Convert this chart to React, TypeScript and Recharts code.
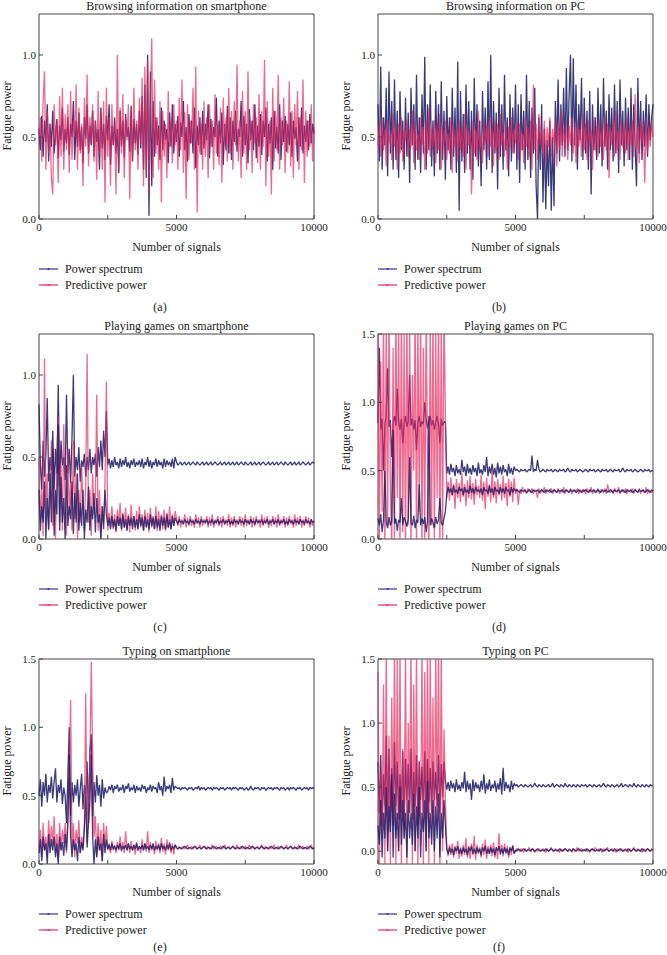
import React from "react";
import { LineChart, Line, XAxis, YAxis, ReferenceArea } from "recharts";

// one stored reading every 50 signals (0 ... 10000)
const SAMPLE_STEP = 50;

const BLUE = "#1f1f68";
const RED = "#e8285e";
const FONT = "'Liberation Serif', 'Times New Roman', serif";

// (a) Browsing information on smartphone
const browsePhoneSpectrum = [
  0.55, 0.42, 0.63, 0.38, 0.6, 0.47, 0.7, 0.35, 0.58, 0.44, 0.66, 0.4, 0.52, 0.61, 0.37, 0.57, 0.48, 0.68, 0.41, 0.55,
  0.46, 0.62, 0.39, 0.58, 0.5, 0.72, 0.36, 0.6, 0.44, 0.65, 0.42, 0.56, 0.34, 0.62, 0.49, 0.7, 0.4, 0.57, 0.45, 0.66,
  0.38, 0.6, 0.47, 0.55, 0.3, 0.68, 0.43, 0.58, 0.36, 0.63, 0.48, 0.7, 0.33, 0.57, 0.45, 0.62, 0.4, 0.55, 0.28, 0.66,
  0.44, 0.6, 0.37, 0.64, 0.5, 0.56, 0.41, 0.69, 0.35, 0.61, 0.46, 0.58, 0.39, 0.66, 0.43, 0.75, 0.3, 0.82, 0.25, 1.0,
  0.02, 0.9, 0.2, 0.72, 0.38, 0.62, 0.45, 0.57, 0.36, 0.68, 0.42, 0.6, 0.48, 0.55, 0.34, 0.65, 0.44, 0.7, 0.4, 0.58,
  0.47, 0.63, 0.38, 0.59, 0.5, 0.72, 0.42, 0.56, 0.35, 0.64, 0.46, 0.6, 0.4, 0.68, 0.31, 0.57, 0.45, 0.62, 0.39, 0.66,
  0.43, 0.58, 0.48, 0.7, 0.37, 0.61, 0.44, 0.56, 0.5, 0.74, 0.38, 0.6, 0.46, 0.65, 0.33, 0.58, 0.42, 0.69, 0.4, 0.62,
  0.36, 0.6, 0.47, 0.66, 0.41, 0.55, 0.5, 0.72, 0.38, 0.63, 0.45, 0.58, 0.34, 0.67, 0.48, 0.6, 0.42, 0.7, 0.37, 0.57,
  0.44, 0.64, 0.39, 0.6, 0.5, 0.68, 0.35, 0.58, 0.46, 0.62, 0.3, 0.66, 0.43, 0.56, 0.4, 0.7, 0.36, 0.6, 0.47, 0.63,
  0.41, 0.58, 0.45, 0.65, 0.38, 0.6, 0.49, 0.56, 0.35, 0.62, 0.44, 0.68, 0.4, 0.57, 0.47, 0.6, 0.42, 0.64, 0.46, 0.58,
  0.52,
];
const browsePhonePredicted = [
  0.48, 0.62, 0.35, 0.72, 0.9, 0.3, 0.66, 0.4, 0.58, 0.25, 0.15, 0.7, 0.45, 0.6, 0.22, 0.75, 0.38, 0.8, 0.3, 0.64,
  0.42, 0.7, 0.28, 0.78, 0.36, 0.6, 0.5, 0.82, 0.3, 0.68, 0.4, 0.58, 0.2, 0.74, 0.44, 0.88, 0.32, 0.62, 0.46, 0.7,
  0.35, 0.6, 0.24, 0.78, 0.4, 0.66, 0.3, 0.72, 0.1, 0.8, 0.38, 0.62, 0.2, 0.7, 0.45, 0.58, 0.15, 1.0, 0.3, 0.68,
  0.4, 0.76, 0.25, 0.62, 0.48, 0.7, 0.12, 0.66, 0.35, 0.8, 0.42, 0.6, 0.3, 0.74, 0.46, 0.86, 0.2, 0.93, 0.3, 0.96,
  0.15, 0.7, 1.1, 0.25, 0.85, 0.4, 0.62, 0.3, 0.72, 0.1, 0.66, 0.38, 0.58, 0.25, 0.78, 0.44, 0.6, 0.34, 0.7, 0.45,
  0.6, 0.3, 0.74, 0.42, 0.85, 0.28, 0.65, 0.12, 0.7, 0.36, 0.6, 0.46, 0.8, 0.3, 0.93, 0.04, 0.66, 0.4, 0.58, 0.3,
  0.72, 0.38, 0.62, 0.25, 0.7, 0.44, 0.6, 0.3, 0.76, 0.4, 0.58, 0.33, 0.68, 0.22, 0.74, 0.45, 0.62, 0.35, 0.8, 0.4,
  0.66, 0.3, 0.72, 0.45, 0.94, 0.35, 0.6, 0.25, 0.78, 0.4, 0.66, 0.3, 0.9, 0.42, 0.6, 0.28, 0.7, 0.46, 0.62, 0.34,
  0.76, 0.3, 0.66, 0.44, 0.97, 0.2, 0.72, 0.38, 0.6, 0.15, 0.8, 0.35, 0.66, 0.42, 0.88, 0.3, 0.62, 0.45, 0.74, 0.28,
  0.6, 0.4, 0.84, 0.32, 0.66, 0.25, 0.7, 0.45, 0.78, 0.3, 0.62, 0.42, 0.85, 0.22, 0.66, 0.38, 0.6, 0.44, 0.7, 0.35,
  0.55,
];

// (b) Browsing information on PC
const browsePcSpectrum = [
  0.7, 0.35, 0.93, 0.3, 0.62, 0.45, 0.8, 0.26, 0.9, 0.4, 0.72, 0.3, 0.85, 0.36, 0.66, 0.25, 0.78, 0.42, 0.6, 0.3,
  0.74, 0.38, 0.65, 0.22, 0.8, 0.45, 0.7, 0.3, 0.88, 0.36, 0.62, 0.28, 0.76, 0.4, 0.99, 0.3, 0.7, 0.42, 0.82, 0.32,
  0.6, 0.26, 0.78, 0.4, 0.7, 0.3, 0.84, 0.36, 0.66, 0.24, 0.75, 0.42, 0.62, 0.3, 0.8, 0.38, 0.68, 0.28, 0.96, 0.05,
  0.78, 0.35, 0.64, 0.28, 0.82, 0.4, 0.72, 0.3, 0.66, 0.24, 0.86, 0.38, 0.7, 0.32, 0.6, 0.2, 0.78, 0.42, 0.68, 0.3,
  0.84, 0.36, 1.0, 0.28, 0.72, 0.4, 0.65, 0.18, 0.8, 0.38, 0.7, 0.3, 0.88, 0.42, 0.62, 0.26, 0.76, 0.35, 0.68, 0.4,
  0.82, 0.3, 0.7, 0.22, 0.76, 0.42, 0.66, 0.3, 0.88, 0.36, 0.72, 0.25, 0.68, 0.4, 0.8, 0.2, 0.0, 0.62, 0.3, 0.7,
  0.1, 0.55, 0.06, 0.48, 0.2, 0.6, 0.05, 0.5, 0.08, 0.72, 0.4, 0.85, 0.35, 0.7, 0.45, 0.8, 0.38, 0.92, 0.42, 0.76,
  1.0, 0.35, 0.98, 0.45, 0.82, 0.3, 0.7, 0.48, 0.86, 0.36, 0.74, 0.4, 0.66, 0.3, 0.78, 0.15, 0.7, 0.42, 0.62, 0.36,
  0.8, 0.4, 0.7, 0.32, 0.86, 0.44, 0.66, 0.3, 0.76, 0.42, 0.68, 0.35, 0.82, 0.4, 0.72, 0.28, 0.85, 0.45, 0.66, 0.32,
  0.74, 0.42, 0.68, 0.36, 0.8, 0.3, 0.7, 0.45, 0.2, 0.86, 0.4, 0.72, 0.36, 0.66, 0.44, 0.76, 0.38, 0.7, 0.48, 0.62,
  0.7,
];
const browsePcPredicted = [
  0.45, 0.58, 0.38, 0.62, 0.42, 0.55, 0.32, 0.6, 0.46, 0.52, 0.36, 0.64, 0.44, 0.56, 0.3, 0.58, 0.4, 0.62, 0.35, 0.54,
  0.48, 0.6, 0.38, 0.55, 0.44, 0.66, 0.34, 0.58, 0.42, 0.52, 0.36, 0.62, 0.45, 0.56, 0.3, 0.6, 0.4, 0.68, 0.38, 0.55,
  0.44, 0.6, 0.34, 0.57, 0.42, 0.64, 0.3, 0.55, 0.46, 0.6, 0.36, 0.52, 0.4, 0.62, 0.28, 0.58, 0.44, 0.55, 0.35, 0.6,
  0.42, 0.56, 0.38, 0.64, 0.3, 0.58, 0.45, 0.54, 0.15, 0.6, 0.4, 0.55, 0.36, 0.66, 0.42, 0.52, 0.34, 0.6, 0.46, 0.57,
  0.38, 0.62, 0.44, 0.55, 0.32, 0.6, 0.42, 0.58, 0.36, 0.64, 0.45, 0.53, 0.38, 0.6, 0.3, 0.56, 0.44, 0.62, 0.4, 0.55,
  0.46, 0.6, 0.36, 0.58, 0.42, 0.52, 0.34, 0.62, 0.44, 0.56, 0.38, 0.6, 0.3, 0.82, 0.42, 0.58, 0.36, 0.64, 0.45, 0.55,
  0.4, 0.6, 0.34, 0.56, 0.44, 0.62, 0.38, 0.55, 0.46, 0.6, 0.32, 0.58, 0.42, 0.66, 0.38, 0.55, 0.44, 0.6, 0.36, 0.57,
  0.45, 0.62, 0.4, 0.56, 0.34, 0.6, 0.44, 0.55, 0.38, 0.64, 0.42, 0.58, 0.36, 0.6, 0.46, 0.54, 0.3, 0.62, 0.42, 0.56,
  0.38, 0.6, 0.44, 0.55, 0.36, 0.63, 0.42, 0.58, 0.25, 0.56, 0.45, 0.6, 0.38, 0.66, 0.42, 0.54, 0.36, 0.6, 0.44, 0.57,
  0.4, 0.62, 0.36, 0.55, 0.45, 0.6, 0.38, 0.76, 0.42, 0.56, 0.34, 0.6, 0.46, 0.58, 0.22, 0.62, 0.4, 0.56, 0.44, 0.6,
  0.5,
];

// (c) Playing games on smartphone
const gamePhoneSpectrum = [
  0.82, 0.45, 0.3, 0.6, 0.38, 0.52, 0.86, 0.35, 0.5, 0.42, 0.66, 0.3, 0.55, 0.4, 0.94, 0.32, 0.6, 0.45, 0.5, 0.36,
  0.88, 0.4, 0.55, 0.34, 0.62, 1.0, 0.38, 0.5, 0.42, 0.56, 0.35, 0.48, 0.44, 0.52, 0.38, 0.5, 0.42, 0.55, 0.4, 0.5,
  0.45, 0.52, 0.38, 0.56, 0.44, 0.6, 0.42, 0.66, 0.5, 0.78, 0.45, 0.49, 0.43, 0.48, 0.44, 0.5, 0.45, 0.47, 0.43, 0.49,
  0.44, 0.48, 0.45, 0.5, 0.44, 0.47, 0.43, 0.48, 0.45, 0.49, 0.44, 0.47, 0.45, 0.48, 0.44, 0.49, 0.43, 0.47, 0.45, 0.5,
  0.44, 0.48, 0.43, 0.47, 0.45, 0.49, 0.44, 0.48, 0.45, 0.47, 0.43, 0.49, 0.44, 0.48, 0.45, 0.47, 0.44, 0.49, 0.43, 0.5,
  0.47, 0.45, 0.46, 0.47, 0.45, 0.46, 0.47, 0.45, 0.46, 0.47, 0.45, 0.46, 0.47, 0.46, 0.45, 0.47, 0.46, 0.45, 0.46, 0.47,
  0.45, 0.46, 0.47, 0.45, 0.46, 0.47, 0.45, 0.46, 0.47, 0.46, 0.45, 0.46, 0.47, 0.45, 0.46, 0.47, 0.45, 0.46, 0.47, 0.45,
  0.46, 0.47, 0.45, 0.46, 0.47, 0.45, 0.46, 0.47, 0.46, 0.45, 0.47, 0.46, 0.45, 0.46, 0.47, 0.45, 0.46, 0.47, 0.45, 0.46,
  0.47, 0.45, 0.46, 0.47, 0.46, 0.45, 0.46, 0.47, 0.45, 0.46, 0.47, 0.45, 0.46, 0.47, 0.45, 0.46, 0.47, 0.46, 0.45, 0.47,
  0.46, 0.45, 0.46, 0.47, 0.45, 0.46, 0.47, 0.45, 0.46, 0.47, 0.45, 0.46, 0.47, 0.46, 0.45, 0.46, 0.47, 0.45, 0.46, 0.47,
  0.46,
];
const gamePhonePredicted = [
  0.5, 0.1, 0.3, 0.02, 1.1, 0.15, 0.4, 0.05, 0.25, 0.6, 0.08, 0.3, 0.0, 0.5, 0.75, 0.1, 0.45, 0.05, 0.7, 0.2,
  0.02, 0.55, 0.15, 0.35, 0.05, 0.6, 0.12, 0.4, 0.0, 0.3, 0.1, 0.45, 0.2, 0.05, 0.35, 1.13, 0.1, 0.3, 0.02, 0.4,
  0.15, 0.25, 0.88, 0.05, 0.3, 0.0, 0.2, 0.1, 0.35, 0.96, 0.05, 0.16, 0.07, 0.2, 0.06, 0.15, 0.04, 0.18, 0.08, 0.22,
  0.05, 0.16, 0.07, 0.19, 0.06, 0.15, 0.04, 0.21, 0.08, 0.14, 0.05, 0.17, 0.06, 0.2, 0.07, 0.15, 0.05, 0.18, 0.08, 0.16,
  0.04, 0.19, 0.07, 0.14, 0.06, 0.2, 0.05, 0.17, 0.08, 0.15, 0.06, 0.18, 0.05, 0.16, 0.07, 0.2, 0.06, 0.15, 0.08, 0.17,
  0.13, 0.08, 0.14, 0.07, 0.12, 0.09, 0.15, 0.07, 0.13, 0.08, 0.14, 0.08, 0.12, 0.07, 0.15, 0.09, 0.13, 0.07, 0.14, 0.08,
  0.12, 0.09, 0.14, 0.07, 0.13, 0.08, 0.15, 0.07, 0.12, 0.09, 0.14, 0.08, 0.13, 0.07, 0.14, 0.09, 0.12, 0.08, 0.15, 0.07,
  0.13, 0.08, 0.14, 0.07, 0.12, 0.09, 0.14, 0.08, 0.13, 0.07, 0.15, 0.08, 0.12, 0.09, 0.14, 0.07, 0.13, 0.08, 0.14, 0.09,
  0.12, 0.07, 0.15, 0.08, 0.13, 0.09, 0.14, 0.07, 0.12, 0.08, 0.14, 0.09, 0.13, 0.07, 0.15, 0.08, 0.12, 0.09, 0.14, 0.07,
  0.13, 0.08, 0.14, 0.09, 0.12, 0.07, 0.15, 0.08, 0.13, 0.09, 0.14, 0.07, 0.12, 0.08, 0.14, 0.09, 0.13, 0.07, 0.12, 0.08,
  0.11,
];
const gamePhoneSpectrumLow = [
  0.3, 0.05, 0.2, 0.1, 0.35, 0.0, 0.25, 0.06, 0.4, 0.1, 0.55, 0.02, 0.3, 0.15, 0.7, 0.05, 0.38, 0.1, 0.25, 0.0,
  0.45, 0.08, 0.2, 0.12, 0.35, 0.03, 0.28, 0.1, 0.4, 0.05, 0.22, 0.08, 0.3, 0.0, 0.18, 0.1, 0.32, 0.05, 0.2, 0.12,
  0.28, 0.04, 0.25, 0.1, 0.15, 0.0, 0.2, 0.06, 0.3, 0.15, 0.08, 0.13, 0.06, 0.14, 0.07, 0.12, 0.05, 0.14, 0.08, 0.13,
  0.06, 0.15, 0.07, 0.12, 0.05, 0.14, 0.08, 0.13, 0.06, 0.14, 0.07, 0.12, 0.06, 0.15, 0.08, 0.13, 0.05, 0.14, 0.07, 0.12,
  0.06, 0.15, 0.08, 0.13, 0.06, 0.14, 0.07, 0.12, 0.05, 0.14, 0.08, 0.13, 0.06, 0.15, 0.07, 0.12, 0.06, 0.14, 0.08, 0.13,
  0.11, 0.09, 0.12, 0.1, 0.11, 0.09, 0.12, 0.1, 0.11, 0.09, 0.12, 0.1, 0.11, 0.09, 0.12, 0.1, 0.11, 0.09, 0.12, 0.1,
  0.11, 0.1, 0.12, 0.09, 0.11, 0.1, 0.12, 0.09, 0.11, 0.1, 0.12, 0.09, 0.11, 0.1, 0.12, 0.09, 0.11, 0.1, 0.12, 0.09,
  0.11, 0.09, 0.12, 0.1, 0.11, 0.09, 0.12, 0.1, 0.11, 0.09, 0.12, 0.1, 0.11, 0.09, 0.12, 0.1, 0.11, 0.09, 0.12, 0.1,
  0.11, 0.1, 0.12, 0.09, 0.11, 0.1, 0.12, 0.09, 0.11, 0.1, 0.12, 0.09, 0.11, 0.1, 0.12, 0.09, 0.11, 0.1, 0.12, 0.09,
  0.11, 0.09, 0.12, 0.1, 0.11, 0.09, 0.12, 0.1, 0.11, 0.09, 0.12, 0.1, 0.11, 0.09, 0.12, 0.1, 0.11, 0.09, 0.12, 0.1,
  0.11,
];

// (d) Playing games on PC
const gamePcSpectrum = [
  0.85, 1.4, 0.8, 0.88, 0.5, 0.84, 0.9, 1.25, 0.82, 0.87, 0.6, 0.85, 0.9, 0.83, 1.1, 0.86, 0.8, 0.88, 0.7, 0.84,
  0.9, 0.82, 0.86, 1.2, 0.83, 0.88, 0.8, 0.87, 0.65, 0.85, 0.9, 0.82, 0.86, 0.84, 1.0, 0.88, 0.81, 0.86, 0.9, 0.83,
  0.87, 0.8, 0.86, 0.9, 0.84, 0.7, 0.88, 0.83, 0.86, 0.85, 0.48, 0.53, 0.47, 0.55, 0.49, 0.52, 0.46, 0.54, 0.48, 0.51,
  0.47, 0.58, 0.49, 0.53, 0.46, 0.55, 0.48, 0.52, 0.47, 0.54, 0.49, 0.52, 0.46, 0.56, 0.48, 0.51, 0.47, 0.54, 0.49, 0.6,
  0.46, 0.53, 0.48, 0.55, 0.47, 0.52, 0.45, 0.56, 0.48, 0.53, 0.47, 0.54, 0.49, 0.51, 0.46, 0.55, 0.48, 0.52, 0.47, 0.53,
  0.5, 0.51, 0.5, 0.49, 0.51, 0.5, 0.5, 0.51, 0.49, 0.5, 0.51, 0.5, 0.61, 0.49, 0.51, 0.5, 0.58, 0.51, 0.49, 0.5,
  0.51, 0.5, 0.49, 0.51, 0.5, 0.5, 0.51, 0.49, 0.5, 0.51, 0.5, 0.49, 0.51, 0.5, 0.5, 0.51, 0.49, 0.5, 0.52, 0.5,
  0.49, 0.51, 0.5, 0.5, 0.51, 0.49, 0.5, 0.51, 0.5, 0.49, 0.5, 0.51, 0.5, 0.49, 0.51, 0.5, 0.5, 0.51, 0.49, 0.5,
  0.51, 0.5, 0.49, 0.51, 0.5, 0.5, 0.51, 0.49, 0.5, 0.51, 0.5, 0.49, 0.51, 0.5, 0.5, 0.51, 0.49, 0.5, 0.52, 0.5,
  0.49, 0.51, 0.5, 0.5, 0.51, 0.49, 0.5, 0.51, 0.5, 0.49, 0.5, 0.51, 0.5, 0.49, 0.51, 0.5, 0.5, 0.51, 0.49, 0.5,
  0.5,
];
const gamePcPredicted = [
  1.7, -0.1, 1.3, 0.2, 1.7, -0.1, 1.6, 0.1, 1.7, 0.4, -0.1, 1.4, 0.0, 1.7, 0.3, 1.6, -0.1, 1.7, 0.05, 1.5,
  -0.1, 1.7, 0.1, 1.6, -0.1, 1.2, 0.5, 1.7, -0.1, 1.6, 0.2, 1.7, -0.1, 1.4, 0.0, 1.7, 0.6, -0.1, 1.6, 0.1,
  1.7, -0.1, 1.5, 0.3, 1.7, -0.1, 1.6, 0.0, 1.7, 0.9, 0.3, 0.42, 0.28, 0.45, 0.32, 0.4, 0.22, 0.44, 0.3, 0.41,
  0.27, 0.48, 0.31, 0.4, 0.24, 0.43, 0.3, 0.46, 0.29, 0.41, 0.25, 0.44, 0.32, 0.39, 0.3, 0.47, 0.28, 0.42, 0.22, 0.45,
  0.31, 0.4, 0.27, 0.5, 0.3, 0.42, 0.26, 0.44, 0.32, 0.4, 0.28, 0.46, 0.3, 0.41, 0.24, 0.44, 0.31, 0.42, 0.27, 0.45,
  0.33, 0.37, 0.25, 0.36, 0.33, 0.38, 0.34, 0.36, 0.33, 0.37, 0.35, 0.34, 0.37, 0.33, 0.36, 0.35, 0.3, 0.37, 0.33, 0.36,
  0.34, 0.38, 0.33, 0.36, 0.35, 0.34, 0.37, 0.33, 0.36, 0.35, 0.34, 0.37, 0.33, 0.36, 0.34, 0.38, 0.33, 0.36, 0.35, 0.34,
  0.37, 0.33, 0.36, 0.35, 0.34, 0.37, 0.33, 0.36, 0.35, 0.34, 0.36, 0.33, 0.37, 0.35, 0.34, 0.38, 0.33, 0.36, 0.35, 0.34,
  0.37, 0.33, 0.36, 0.35, 0.34, 0.37, 0.33, 0.4, 0.35, 0.34, 0.36, 0.33, 0.37, 0.35, 0.34, 0.38, 0.33, 0.36, 0.35, 0.34,
  0.37, 0.33, 0.36, 0.35, 0.34, 0.37, 0.33, 0.36, 0.35, 0.34, 0.37, 0.33, 0.36, 0.35, 0.34, 0.38, 0.33, 0.36, 0.35, 0.34,
  0.36,
];
const gamePcSpectrumLow = [
  0.15, 0.1, 0.18, 0.05, 0.14, 0.5, 0.12, 0.08, 0.16, 0.1, 0.13, 0.8, 0.11, 0.15, 0.06, 0.14, 0.12, 0.3, 0.1, 0.16,
  0.13, 0.09, 0.15, 0.6, 0.12, 0.1, 0.17, 0.08, 0.14, 0.12, 0.4, 0.1, 0.15, 0.11, 0.16, 0.05, 0.13, 0.9, 0.1, 0.15,
  0.12, 0.08, 0.16, 0.11, 0.14, 0.3, 0.12, 0.1, 0.15, 0.2, 0.33, 0.38, 0.34, 0.37, 0.32, 0.39, 0.34, 0.36, 0.33, 0.38,
  0.35, 0.37, 0.32, 0.38, 0.34, 0.36, 0.33, 0.39, 0.34, 0.37, 0.33, 0.38, 0.35, 0.36, 0.34, 0.37, 0.32, 0.38, 0.35, 0.36,
  0.33, 0.39, 0.34, 0.37, 0.32, 0.38, 0.35, 0.36, 0.33, 0.38, 0.34, 0.37, 0.33, 0.38, 0.35, 0.36, 0.32, 0.38, 0.34, 0.37,
  0.35, 0.36, 0.35, 0.34, 0.36, 0.35, 0.35, 0.36, 0.34, 0.35, 0.36, 0.35, 0.34, 0.36, 0.35, 0.35, 0.36, 0.34, 0.35, 0.36,
  0.35, 0.34, 0.36, 0.35, 0.35, 0.36, 0.34, 0.35, 0.36, 0.35, 0.34, 0.36, 0.35, 0.35, 0.36, 0.34, 0.35, 0.36, 0.35, 0.34,
  0.36, 0.35, 0.35, 0.36, 0.34, 0.35, 0.36, 0.35, 0.34, 0.36, 0.35, 0.36, 0.35, 0.34, 0.36, 0.35, 0.35, 0.36, 0.34, 0.35,
  0.36, 0.35, 0.34, 0.36, 0.35, 0.35, 0.36, 0.34, 0.35, 0.36, 0.35, 0.34, 0.36, 0.35, 0.35, 0.36, 0.34, 0.35, 0.36, 0.35,
  0.34, 0.36, 0.35, 0.35, 0.36, 0.34, 0.35, 0.36, 0.35, 0.34, 0.36, 0.35, 0.35, 0.36, 0.34, 0.35, 0.36, 0.35, 0.34, 0.36,
  0.35,
];

// (e) Typing on smartphone
const typePhoneSpectrum = [
  0.5, 0.62, 0.42, 0.6, 0.5, 0.66, 0.45, 0.58, 0.52, 0.64, 0.48, 0.6, 0.7, 0.45, 0.58, 0.52, 0.62, 0.44, 0.56, 0.5,
  0.3, 0.65, 1.0, 0.35, 0.6, 0.45, 0.58, 0.5, 0.62, 0.42, 0.55, 0.66, 0.4, 0.58, 0.5, 0.75, 0.3, 0.82, 0.95, 0.35,
  0.6, 0.45, 0.65, 0.5, 0.58, 0.42, 0.62, 0.48, 0.56, 0.52, 0.53, 0.57, 0.54, 0.58, 0.52, 0.57, 0.55, 0.58, 0.53, 0.56,
  0.54, 0.58, 0.52, 0.57, 0.55, 0.59, 0.53, 0.56, 0.54, 0.58, 0.52, 0.57, 0.54, 0.56, 0.53, 0.58, 0.55, 0.57, 0.52, 0.56,
  0.54, 0.58, 0.53, 0.57, 0.55, 0.56, 0.52, 0.6, 0.54, 0.57, 0.5, 0.64, 0.53, 0.57, 0.55, 0.58, 0.52, 0.63, 0.54, 0.57,
  0.56, 0.55, 0.56, 0.54, 0.56, 0.55, 0.56, 0.55, 0.54, 0.56, 0.55, 0.56, 0.54, 0.55, 0.56, 0.55, 0.57, 0.54, 0.56, 0.55,
  0.56, 0.54, 0.55, 0.56, 0.55, 0.56, 0.54, 0.56, 0.55, 0.56, 0.55, 0.54, 0.56, 0.55, 0.56, 0.54, 0.55, 0.56, 0.55, 0.56,
  0.54, 0.56, 0.55, 0.56, 0.55, 0.54, 0.56, 0.55, 0.56, 0.54, 0.55, 0.56, 0.54, 0.55, 0.57, 0.55, 0.54, 0.56, 0.55, 0.56,
  0.55, 0.54, 0.56, 0.55, 0.56, 0.54, 0.55, 0.56, 0.55, 0.56, 0.54, 0.56, 0.55, 0.56, 0.55, 0.54, 0.56, 0.55, 0.56, 0.54,
  0.55, 0.56, 0.54, 0.56, 0.55, 0.56, 0.55, 0.54, 0.56, 0.55, 0.56, 0.54, 0.55, 0.56, 0.55, 0.56, 0.54, 0.56, 0.55, 0.56,
  0.55,
];
const typePhonePredicted = [
  0.12, 0.25, 0.05, 0.3, 0.1, 0.2, 0.04, 0.32, 0.12, 0.28, 0.15, 0.35, 0.08, 0.22, 0.02, 0.3, 0.1, 0.25, 0.15, 0.3,
  0.08, 0.35, 0.6, 1.2, 0.1, 0.3, 0.05, 0.25, 0.15, 0.32, 0.08, 0.2, 0.12, 0.3, 1.25, 0.15, 0.5, 0.7, 1.48, 0.8,
  0.2, 0.35, 0.05, 0.3, 0.1, 0.25, 0.02, 0.3, 0.12, 0.28, 0.1, 0.15, 0.08, 0.17, 0.1, 0.14, 0.08, 0.16, 0.1, 0.2,
  0.09, 0.16, 0.08, 0.24, 0.1, 0.15, 0.08, 0.17, 0.1, 0.14, 0.07, 0.16, 0.1, 0.13, 0.08, 0.18, 0.1, 0.15, 0.09, 0.24,
  0.08, 0.16, 0.1, 0.14, 0.07, 0.17, 0.1, 0.15, 0.08, 0.19, 0.09, 0.15, 0.07, 0.18, 0.1, 0.16, 0.08, 0.15, 0.07, 0.14,
  0.12, 0.11, 0.13, 0.11, 0.12, 0.13, 0.11, 0.12, 0.14, 0.11, 0.12, 0.13, 0.11, 0.12, 0.13, 0.11, 0.12, 0.14, 0.11, 0.12,
  0.13, 0.11, 0.12, 0.13, 0.11, 0.12, 0.14, 0.11, 0.12, 0.13, 0.11, 0.12, 0.13, 0.11, 0.12, 0.14, 0.11, 0.12, 0.13, 0.11,
  0.12, 0.13, 0.11, 0.12, 0.14, 0.11, 0.12, 0.13, 0.11, 0.12, 0.13, 0.11, 0.12, 0.14, 0.11, 0.12, 0.13, 0.11, 0.12, 0.13,
  0.11, 0.12, 0.14, 0.11, 0.12, 0.13, 0.11, 0.12, 0.13, 0.11, 0.12, 0.14, 0.11, 0.12, 0.13, 0.11, 0.12, 0.13, 0.11, 0.12,
  0.14, 0.11, 0.12, 0.13, 0.11, 0.12, 0.13, 0.11, 0.12, 0.14, 0.11, 0.12, 0.13, 0.11, 0.12, 0.13, 0.11, 0.12, 0.14, 0.11,
  0.12,
];
const typePhoneSpectrumLow = [
  0.08, 0.18, 0.02, 0.2, 0.1, 0.15, 0.0, 0.22, 0.08, 0.18, 0.1, 0.2, 0.05, 0.15, 0.0, 0.2, 0.1, 0.16, 0.06, 0.22,
  0.1, 0.3, 0.8, 0.2, 0.05, 0.18, 0.1, 0.15, 0.02, 0.2, 0.08, 0.16, 0.1, 0.25, 0.5, 0.12, 0.3, 0.45, 0.8, 0.2,
  0.0, 0.18, 0.05, 0.2, 0.1, 0.15, 0.02, 0.22, 0.08, 0.18, 0.11, 0.14, 0.1, 0.15, 0.11, 0.13, 0.1, 0.14, 0.11, 0.15,
  0.1, 0.13, 0.11, 0.14, 0.1, 0.15, 0.11, 0.13, 0.1, 0.14, 0.11, 0.15, 0.1, 0.13, 0.11, 0.14, 0.1, 0.15, 0.11, 0.13,
  0.1, 0.14, 0.11, 0.15, 0.1, 0.13, 0.11, 0.14, 0.1, 0.15, 0.11, 0.13, 0.1, 0.14, 0.11, 0.15, 0.1, 0.13, 0.11, 0.14,
  0.12, 0.11, 0.12, 0.12, 0.11, 0.12, 0.13, 0.12, 0.11, 0.12, 0.12, 0.11, 0.12, 0.13, 0.12, 0.11, 0.12, 0.12, 0.11, 0.12,
  0.13, 0.12, 0.11, 0.12, 0.12, 0.11, 0.12, 0.13, 0.12, 0.11, 0.12, 0.12, 0.11, 0.12, 0.13, 0.12, 0.11, 0.12, 0.12, 0.11,
  0.12, 0.13, 0.12, 0.11, 0.12, 0.12, 0.11, 0.12, 0.13, 0.12, 0.11, 0.12, 0.12, 0.11, 0.12, 0.13, 0.12, 0.11, 0.12, 0.12,
  0.11, 0.12, 0.13, 0.12, 0.11, 0.12, 0.12, 0.11, 0.12, 0.13, 0.12, 0.11, 0.12, 0.12, 0.11, 0.12, 0.13, 0.12, 0.11, 0.12,
  0.12, 0.11, 0.12, 0.13, 0.12, 0.11, 0.12, 0.12, 0.11, 0.12, 0.13, 0.12, 0.11, 0.12, 0.12, 0.11, 0.12, 0.13, 0.12, 0.11,
  0.12,
];

// (f) Typing on PC
const typePcSpectrum = [
  0.7, 0.3, 0.75, 0.2, 0.6, 0.35, 0.9, 0.15, 0.8, 0.3, 0.65, 0.2, 0.85, 0.35, 0.7, 0.25, 0.6, 0.3, 0.78, 0.2,
  0.72, 0.4, 0.68, 0.3, 0.8, 0.25, 0.62, 0.35, 0.75, 0.2, 0.7, 0.4, 0.66, 0.3, 0.78, 0.25, 0.72, 0.38, 0.65, 0.3,
  0.7, 0.4, 0.62, 0.35, 0.75, 0.3, 0.68, 0.42, 0.7, 0.55, 0.48, 0.54, 0.47, 0.55, 0.49, 0.53, 0.46, 0.56, 0.48, 0.52,
  0.47, 0.54, 0.49, 0.62, 0.46, 0.55, 0.48, 0.53, 0.4, 0.56, 0.47, 0.54, 0.49, 0.52, 0.46, 0.55, 0.48, 0.6, 0.45, 0.53,
  0.48, 0.56, 0.47, 0.52, 0.49, 0.55, 0.46, 0.53, 0.48, 0.57, 0.44, 0.65, 0.47, 0.54, 0.49, 0.52, 0.46, 0.55, 0.48, 0.53,
  0.51, 0.52, 0.5, 0.51, 0.52, 0.51, 0.5, 0.52, 0.51, 0.5, 0.51, 0.52, 0.5, 0.51, 0.53, 0.51, 0.5, 0.52, 0.51, 0.5,
  0.52, 0.51, 0.5, 0.51, 0.52, 0.5, 0.51, 0.53, 0.5, 0.51, 0.52, 0.51, 0.5, 0.52, 0.51, 0.5, 0.53, 0.51, 0.5, 0.52,
  0.51, 0.5, 0.52, 0.51, 0.5, 0.52, 0.51, 0.5, 0.52, 0.51, 0.51, 0.52, 0.5, 0.51, 0.52, 0.51, 0.5, 0.52, 0.51, 0.5,
  0.51, 0.52, 0.5, 0.51, 0.53, 0.51, 0.5, 0.52, 0.51, 0.5, 0.52, 0.51, 0.5, 0.51, 0.52, 0.5, 0.51, 0.53, 0.5, 0.51,
  0.52, 0.51, 0.5, 0.52, 0.51, 0.5, 0.53, 0.51, 0.5, 0.52, 0.51, 0.5, 0.52, 0.51, 0.5, 0.52, 0.51, 0.5, 0.52, 0.51,
  0.51,
];
const typePcPredicted = [
  1.4, -0.1, 0.6, 0.1, 1.3, -0.1, 1.6, 0.0, 0.9, -0.1, 1.2, 0.2, 1.6, -0.1, 1.5, 0.0, 1.6, -0.15, 0.8, 0.1,
  1.6, -0.1, 1.0, 0.3, 1.6, -0.1, 1.3, 0.0, 1.6, -0.15, 0.7, 0.2, 1.6, -0.1, 1.4, 0.0, 1.6, -0.1, 1.6, 0.1,
  1.2, -0.1, 1.6, 0.2, 1.6, -0.15, 1.6, 0.0, 0.95, 0.4, 0.03, -0.04, 0.05, -0.03, 0.06, -0.05, 0.04, -0.02, 0.08, -0.06,
  0.03, -0.04, 0.05, -0.03, 0.1, -0.05, 0.04, -0.06, 0.06, -0.03, 0.12, -0.07, 0.05, -0.02, 0.03, -0.05, 0.06, -0.03, 0.09, -0.06,
  0.04, -0.02, 0.05, -0.04, 0.07, -0.05, 0.03, -0.06, 0.14, -0.03, 0.05, -0.04, 0.06, -0.02, 0.04, -0.05, 0.03, -0.03, 0.05, -0.02,
  0.0, 0.02, 0.01, 0.0, 0.02, 0.01, -0.01, 0.02, 0.0, 0.01, 0.03, 0.0, 0.01, 0.02, -0.01, 0.01, 0.0, 0.02, 0.01, 0.0,
  0.02, 0.01, -0.01, 0.02, 0.0, 0.01, 0.03, 0.0, 0.01, 0.02, 0.0, 0.01, -0.01, 0.02, 0.01, 0.0, 0.02, 0.01, 0.0, 0.02,
  0.01, -0.01, 0.02, 0.0, 0.01, 0.03, 0.0, 0.01, 0.02, 0.0, 0.01, 0.02, 0.0, 0.01, -0.01, 0.02, 0.01, 0.0, 0.03, 0.01,
  0.0, 0.02, 0.01, -0.01, 0.02, 0.0, 0.01, 0.03, 0.0, 0.01, 0.02, 0.0, 0.01, -0.01, 0.02, 0.01, 0.0, 0.02, 0.01, 0.0,
  0.02, 0.01, -0.01, 0.02, 0.0, 0.01, 0.03, 0.0, 0.01, 0.02, 0.0, 0.01, -0.01, 0.02, 0.01, 0.0, 0.02, 0.01, 0.0, 0.02,
  0.01,
];
const typePcSpectrumLow = [
  0.2, 0.05, 0.4, -0.05, 0.3, 0.1, 0.5, 0.0, 0.35, 0.15, 0.6, -0.05, 0.45, 0.1, 0.3, 0.0, 0.5, 0.05, 0.4, 0.1,
  0.3, -0.05, 0.4, 0.1, 0.3, 0.05, 0.45, 0.0, 0.35, 0.1, 0.5, -0.05, 0.3, 0.15, 0.4, 0.0, 0.55, 0.1, 0.3, 0.05,
  0.4, 0.0, 0.35, 0.1, 0.45, -0.05, 0.3, 0.1, 0.4, 0.2, 0.02, -0.02, 0.03, -0.01, 0.02, -0.03, 0.03, 0.0, 0.04, -0.02,
  0.02, -0.02, 0.03, -0.01, 0.02, -0.03, 0.03, 0.0, 0.04, -0.02, 0.02, -0.02, 0.03, -0.01, 0.02, -0.03, 0.03, 0.0, 0.04, -0.02,
  0.02, -0.02, 0.03, -0.01, 0.02, -0.03, 0.03, 0.0, 0.04, -0.02, 0.02, -0.02, 0.03, -0.01, 0.02, -0.03, 0.03, 0.0, 0.04, -0.02,
  0.01, 0.0, 0.02, 0.01, 0.0, 0.01, 0.02, 0.01, 0.0, 0.01, 0.01, 0.0, 0.02, 0.01, 0.0, 0.01, 0.02, 0.01, 0.0, 0.01,
  0.01, 0.0, 0.02, 0.01, 0.0, 0.01, 0.02, 0.01, 0.0, 0.01, 0.01, 0.0, 0.02, 0.01, 0.0, 0.01, 0.02, 0.01, 0.0, 0.01,
  0.01, 0.0, 0.02, 0.01, 0.0, 0.01, 0.02, 0.01, 0.0, 0.01, 0.01, 0.0, 0.02, 0.01, 0.0, 0.01, 0.02, 0.01, 0.0, 0.01,
  0.01, 0.0, 0.02, 0.01, 0.0, 0.01, 0.02, 0.01, 0.0, 0.01, 0.01, 0.0, 0.02, 0.01, 0.0, 0.01, 0.02, 0.01, 0.0, 0.01,
  0.01, 0.0, 0.02, 0.01, 0.0, 0.01, 0.02, 0.01, 0.0, 0.01, 0.01, 0.0, 0.02, 0.01, 0.0, 0.01, 0.02, 0.01, 0.0, 0.01,
  0.01,
];

const xTicks = [0, 2500, 5000, 7500, 10000];

type Panel = {
  title: string;
  caption: string;
  yDomain: [number, number];
  yTicks: number[];
  spectrum: number[];
  predicted: number[];
  spectrumLow?: number[];
};

const panels: Panel[] = [
  { title: "Browsing information on smartphone", caption: "(a)", yDomain: [0, 1.25], yTicks: [0, 0.5, 1], spectrum: browsePhoneSpectrum, predicted: browsePhonePredicted },
  { title: "Browsing information on PC", caption: "(b)", yDomain: [0, 1.25], yTicks: [0, 0.5, 1], spectrum: browsePcSpectrum, predicted: browsePcPredicted },
  { title: "Playing games on smartphone", caption: "(c)", yDomain: [0, 1.25], yTicks: [0, 0.5, 1], spectrum: gamePhoneSpectrum, predicted: gamePhonePredicted, spectrumLow: gamePhoneSpectrumLow },
  { title: "Playing games on PC", caption: "(d)", yDomain: [0, 1.5], yTicks: [0, 0.5, 1, 1.5], spectrum: gamePcSpectrum, predicted: gamePcPredicted, spectrumLow: gamePcSpectrumLow },
  { title: "Typing on smartphone", caption: "(e)", yDomain: [0, 1.5], yTicks: [0, 0.5, 1, 1.5], spectrum: typePhoneSpectrum, predicted: typePhonePredicted, spectrumLow: typePhoneSpectrumLow },
  { title: "Typing on PC", caption: "(f)", yDomain: [-0.1, 1.5], yTicks: [0, 0.5, 1, 1.5], spectrum: typePcSpectrum, predicted: typePcPredicted, spectrumLow: typePcSpectrumLow },
];

const rowTops = [0, 320, 645];
const colLefts = [0, 339];

const textStyle: React.CSSProperties = { fontFamily: FONT, color: "#222", position: "absolute", whiteSpace: "nowrap" };

function YTick(props: any) {
  const { x, y, payload } = props;
  return (
    <g>
      <line x1={x + 3} x2={x + 7} y1={y} y2={y} stroke="#444" />
      <text x={x} y={y} dy="0.35em" textAnchor="end" fontSize={11} fontFamily={FONT} fill="#222">
        {Number(payload.value).toFixed(1)}
      </text>
    </g>
  );
}

function XTick(props: any) {
  const { x, y, payload } = props;
  const axisY = y - 3;
  return (
    <g>
      <line x1={x} x2={x} y1={axisY} y2={axisY - 4} stroke="#444" />
      {payload.value % 5000 === 0 && (
        <text x={x} y={y} dy="0.8em" textAnchor="middle" fontSize={11} fontFamily={FONT} fill="#222">
          {payload.value}
        </text>
      )}
    </g>
  );
}

function LegendBox() {
  const rows = [
    { label: "Power spectrum", color: "#34348a", cy: 9 },
    { label: "Predictive power", color: RED, cy: 25 },
  ];
  return (
    <svg width={200} height={34} style={{ position: "absolute", left: 0, top: 260 }}>
      {rows.map((r) => (
        <g key={r.label}>
          <line x1={39} x2={58} y1={r.cy} y2={r.cy} stroke={r.color} strokeWidth={1.2} />
          <circle cx={48.5} cy={r.cy} r={1} fill={r.color} />
          <text x={65} y={r.cy} dy="0.35em" fontSize={12} fontFamily={FONT} fill="#222">
            {r.label}
          </text>
        </g>
      ))}
    </svg>
  );
}

function SignalPanel({ panel, left, top }: { panel: Panel; left: number; top: number }) {
  const data = panel.spectrum.map((v, i) => ({
    x: i * SAMPLE_STEP,
    spectrum: v,
    predicted: panel.predicted[i],
    spectrumLow: panel.spectrumLow ? panel.spectrumLow[i] : null,
  }));
  const captionTop = Math.min(300, 955 - top - 15);
  const lineProps = { type: "linear" as const, strokeWidth: 1.3, strokeLinejoin: "bevel" as const, dot: false, activeDot: false, isAnimationActive: false };
  return (
    <div style={{ position: "absolute", left, top, width: 330, height: 320 }}>
      <div style={{ ...textStyle, left: 39, width: 275, top: -1, lineHeight: "14px", fontSize: 12, textAlign: "center" }}>
        {panel.title}
      </div>
      <div
        style={{
          ...textStyle,
          left: 7,
          top: 116,
          fontSize: 12,
          transform: "translate(-50%, -50%) rotate(-90deg)",
        }}
      >
        Fatigue power
      </div>
      <div style={{ position: "absolute", left: 0, top: 0 }}>
        <LineChart width={330} height={232} data={data} margin={{ top: 14, right: 16, bottom: 0, left: 0 }}>
          <XAxis
            dataKey="x"
            type="number"
            domain={[0, 10000]}
            ticks={xTicks}
            interval={0}
            axisLine={false}
            tickLine={false}
            tickSize={0}
            tickMargin={3}
            height={13}
            tick={<XTick />}
          />
          <YAxis
            type="number"
            domain={panel.yDomain}
            allowDataOverflow
            ticks={panel.yTicks}
            interval={0}
            axisLine={false}
            tickLine={false}
            tickSize={0}
            tickMargin={3}
            width={39}
            tick={<YTick />}
          />
          <Line dataKey="spectrum" stroke={BLUE} strokeOpacity={0.88} {...lineProps} />
          <Line dataKey="predicted" stroke={RED} strokeOpacity={0.7} {...lineProps} />
          {panel.spectrumLow && <Line dataKey="spectrumLow" stroke={BLUE} strokeOpacity={0.85} {...lineProps} />}
          <ReferenceArea x1={0} x2={10000} y1={panel.yDomain[0]} y2={panel.yDomain[1]} fill="none" stroke="#444" strokeWidth={1} />
        </LineChart>
      </div>
      <div style={{ ...textStyle, left: 39, width: 275, top: 240, lineHeight: "14px", fontSize: 12, textAlign: "center" }}>
        Number of signals
      </div>
      <LegendBox />
      <div style={{ ...textStyle, left: 110, width: 100, top: captionTop, lineHeight: "14px", fontSize: 12, textAlign: "center" }}>
        {panel.caption}
      </div>
    </div>
  );
}

export default function App() {
  return (
    <div style={{ position: "absolute", left: 0, top: 0, width: 667, height: 955, background: "#fff", overflow: "hidden" }}>
      {panels.map((p, i) => (
        <SignalPanel key={p.caption} panel={p} left={colLefts[i % 2]} top={rowTops[Math.floor(i / 2)]} />
      ))}
    </div>
  );
}
